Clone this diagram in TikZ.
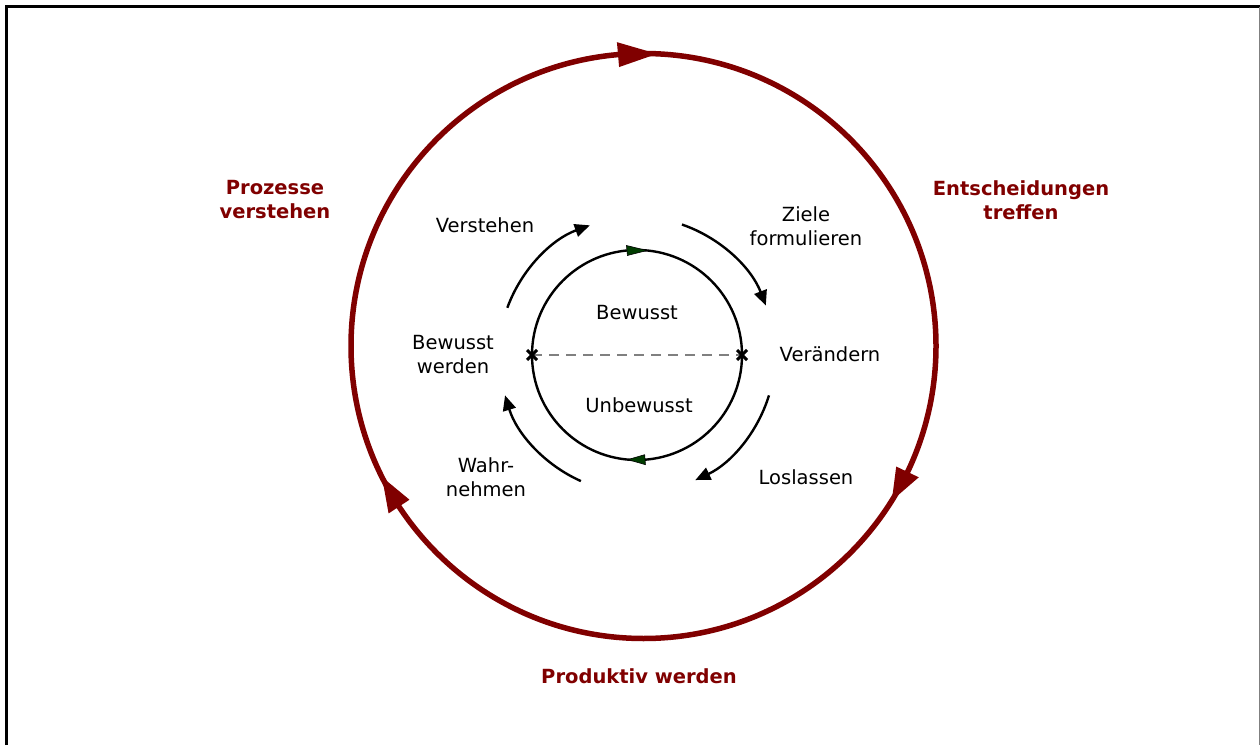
\documentclass[tikz,border=0pt]{standalone}
\usepackage{fontspec}
\setmainfont{DejaVu Sans}
\usetikzlibrary{arrows.meta,calc}
\definecolor{dred}{RGB}{128,0,0}
\definecolor{dgreen}{RGB}{0,60,0}
\definecolor{dgray}{RGB}{128,128,128}
\newcommand{\outarrow}[2]{\fill[dred] ($(O)+(#2:280)$) -- ($(O)+(#1:292.5)$) -- ($(O)+(#2:305)$) -- cycle;}
\newcommand{\inarrow}[2]{\filldraw[fill=dgreen,draw=black,line width=0.6pt] ($(I)+(#2:100)$) -- ($(I)+(#1:105)$) -- ($(I)+(#2:110)$) -- cycle;}
\begin{document}
\begin{tikzpicture}[x=1pt,y=1pt,
  lbl/.style={font=\fontsize{19.5}{24}\selectfont, align=center, inner sep=0pt},
  rlbl/.style={font=\fontsize{19.5}{24}\selectfont\bfseries, text=dred, align=center, inner sep=0pt},
  outring/.style={draw=dred, line width=5.5pt},
  inring/.style={draw=black, line width=2.4pt},
  midarc/.style={draw=black, line width=2.4pt, -{Triangle[length=15pt,width=13pt]}},
  xmark/.style={draw=black, line width=3pt}]
\useasboundingbox (0,0) rectangle (1260,745);
% frame
\draw[black, line width=3pt] (6.5,0) -- (6.5,738) -- (1260,738);
\draw[dgray, line width=1.5pt] (1259.3,738) -- (1259.3,0);
% centres
\coordinate (O) at (643.5,399);
\coordinate (I) at (637,390);
% outer ring
\draw[outring] (O) circle[radius=292.5];
\outarrow{87.35}{95.0}
\outarrow{-31.9}{-25.5}
\outarrow{206.6}{213.3}
% inner ring
\draw[inring] (I) circle[radius=105];
\inarrow{84.5}{95.5}
\inarrow{265}{274.4}
% dashed diameter
\coordinate (xl) at ($(I)+(-105,0)$);
\coordinate (xr) at ($(I)+(105,0)$);
\draw[dgray, line width=2.5pt, dash pattern=on 10pt off 7pt] (xl) -- (xr);
\draw[xmark] ($(xl)+(-5,-5)$) -- ($(xl)+(5,5)$) ($(xl)+(-5,5)$) -- ($(xl)+(5,-5)$);
\draw[xmark] ($(xr)+(-5,-5)$) -- ($(xr)+(5,5)$) ($(xr)+(-5,5)$) -- ($(xr)+(5,-5)$);
% middle arcs
\draw[midarc] ($(I)+(160:138)$) arc[start angle=160, end angle=110, radius=138];
\draw[midarc] ($(I)+(71:138)$) arc[start angle=71, end angle=21, radius=138];
\draw[midarc] ($(I)+(-17:138)$) arc[start angle=-17, end angle=-65, radius=138];
\draw[midarc] ($(I)+(246:138)$) arc[start angle=246, end angle=197, radius=138];
% labels
\node[rlbl] (pv) at (275,545) {Prozesse\\verstehen};
\node[rlbl] (et) at (1021,545) {Entscheidungen\\treffen};
\node[rlbl] (pw) at (639,69) {Produktiv werden};
\node[lbl] (ve) at (485,520) {Verstehen};
\node[lbl] (zf) at (806,519) {Ziele\\formulieren};
\node[lbl] (bw) at (453,390) {Bewusst\\werden};
\node[lbl] (va) at (830,391) {Verändern};
\node[lbl] (bi) at (637,432) {Bewusst};
\node[lbl] (ub) at (639,340) {Unbewusst};
\node[lbl] (wn) at (486,268) {Wahr-\\nehmen};
\node[lbl] (ll) at (806,268) {Loslassen};
\end{tikzpicture}
\end{document}
